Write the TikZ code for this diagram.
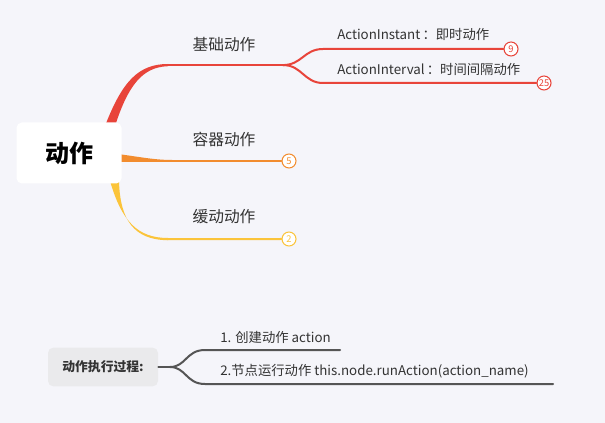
\documentclass[tikz,border=0pt]{standalone}
\usepackage{fontspec}
\setmainfont{Noto Sans CJK SC}
\definecolor{bg}{HTML}{F5F5FA}
\definecolor{cred}{HTML}{E8443A}
\definecolor{corange}{HTML}{F28C2E}
\definecolor{cyellow}{HTML}{FBC43A}
\definecolor{cgray}{HTML}{555555}
\definecolor{boxgray}{HTML}{EAEAEC}
\definecolor{txt}{HTML}{333333}
\tikzset{
  lbl/.style={font=\fontsize{11.8pt}{13pt}\selectfont, text=txt, inner sep=0pt},
  sublbl/.style={font=\fontsize{10pt}{11pt}\selectfont, text=txt, inner sep=0pt, anchor=west},
  badge/.style={circle, draw=#1, fill=white, line width=0.8pt, minimum size=10.5pt, inner sep=0pt, text=#1, font=\fontsize{7pt}{8pt}\selectfont},
  branch/.style={line width=1.5pt, line cap=round}
}
\begin{document}
\begin{tikzpicture}[x=0.75pt,y=-0.75pt]
\fill[bg] (0,0) rectangle (605,423);
\useasboundingbox (0,0) rectangle (605,423);

% thick tapering branches (behind root)
\fill[cred] (105,126) .. controls (122,82) and (138,64) .. (168,64) -- (168,66.2) .. controls (142,67) and (128,86) .. (115,126) -- cycle;
\fill[corange] (118,154) .. controls (140,157) and (155,160) .. (172,160) -- (172,162) .. controls (150,162) and (135,162) .. (118,162) -- cycle;
\fill[cyellow] (110,181) .. controls (122,222) and (138,238) .. (168,238) -- (168,240.2) .. controls (134,240) and (120,220) .. (119,181) -- cycle;

% root
\node[fill=white, rounded corners=4pt, minimum width=78.75pt, minimum height=45.75pt, inner sep=0pt, font=\fontsize{18pt}{20pt}\selectfont\bfseries] (root) at (69,153) {动作};

% red
\coordinate (r0) at (167,65.1);
\coordinate (rf) at (283,65.1);
\draw[branch, cred] (r0) -- (rf);
\node[lbl] (l1) at (224,45) {基础动作};
\node[badge=cred] (b9) at (511,49) {9};
\node[badge=cred] (b25) at (544,83) {25};
\draw[branch, cred] (rf) .. controls (302,65) and (304,49) .. (323,49) -- (b9.west);
\draw[branch, cred] (rf) .. controls (302,65) and (304,83) .. (323,83) -- (b25.west);
\node[sublbl] (s1) at (337,34) {ActionInstant\,：即时动作};
\node[sublbl] (s2) at (337,69) {ActionInterval\,：时间间隔动作};

% orange
\node[badge=corange] (b5) at (289,161) {5};
\draw[branch, corange] (171,161) -- (b5.west);
\node[lbl] (l2) at (224,139) {容器动作};

% yellow
\node[badge=cyellow] (b2) at (289,239) {2};
\draw[branch, cyellow] (167,239.1) -- (b2.west);
\node[lbl] (l3) at (224,217) {缓动动作};

% bottom
\node[fill=boxgray, rounded corners=4pt, minimum width=82.5pt, minimum height=29pt, inner sep=0pt, font=\fontsize{9.6pt}{11pt}\selectfont\bfseries, text=txt] (proc) at (103,367) {动作执行过程:};
\coordinate (pf) at (170,367);
\coordinate (e1) at (340,350);
\coordinate (e2) at (553,384);
\draw[branch, cgray] (proc.east) -- (pf);
\draw[branch, cgray] (pf) .. controls (186,367) and (186,350) .. (205,350) -- (e1);
\draw[branch, cgray] (pf) .. controls (186,367) and (186,384) .. (205,384) -- (e2);
\node[sublbl] (t1) at (220,337) {1. 创建动作 action};
\node[sublbl] (t2) at (220,371) {2.节点运行动作 this.node.runAction(action\_name)};
\end{tikzpicture}
\end{document}
